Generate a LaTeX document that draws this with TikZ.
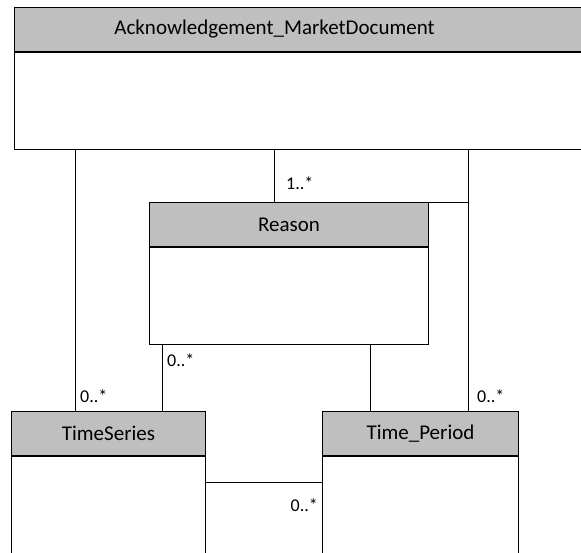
\documentclass[tikz,border=0pt]{standalone}
\usepackage{fontspec}
\setmainfont{Carlito}
\usetikzlibrary{positioning}
\definecolor{head_gray}{RGB}{191,191,191}

\begin{document}
\begin{tikzpicture}[x=1pt,y=-1pt]
    \tikzstyle{hdr}=[draw=black, fill=head_gray, rectangle, minimum height=44pt, inner sep=0pt, text=black, font=\fontsize{21}{25}\selectfont, line width=1pt]
    \tikzstyle{body}=[draw=black, fill=white, rectangle, inner sep=0pt, line width=1pt]
    \tikzstyle{wht}=[draw=none, fill=none, inner sep=0pt, text=black, font=\fontsize{21}{25}\selectfont]
    \tikzstyle{mult}=[draw=none, inner sep=0pt, text=black, font=\fontsize{18}{22}\selectfont]
    \tikzstyle{link}=[-, line width=0.8pt]

    \useasboundingbox (0,0) rectangle (581,552);
    \clip (0,0) rectangle (581,552);

    \node[hdr, minimum width=586pt, anchor=north west] (ackH) at (14,7) {};
    \node[body, minimum width=586pt, minimum height=97pt, anchor=north] (ack) at (ackH.south) {};
    \node[wht] (ackT) at (274.5,29) {Acknowledgement\_MarketDocument};

    \node[hdr, minimum width=279pt, anchor=north west] (rsH) at (149,202) {Reason};
    \node[body, minimum width=279pt, minimum height=97pt, anchor=north] (rs) at (rsH.south) {};

    \node[hdr, minimum width=194pt, anchor=north west] (tsH) at (11,411) {TimeSeries};
    \node[body, minimum width=194pt, minimum height=110pt, anchor=north] (ts) at (tsH.south) {};

    \node[hdr, minimum width=196pt, anchor=north west] (tpH) at (322,411) {Time\_Period};
    \node[body, minimum width=196pt, minimum height=110pt, anchor=north] (tp) at (tpH.south) {};

    % x / y positions of the connectors
    \coordinate (xL)  at (75,0);
    \coordinate (xM)  at (274,0);
    \coordinate (xR)  at (468,0);
    \coordinate (xRL) at (162,0);
    \coordinate (xRR) at (370,0);
    \coordinate (yB)  at (0,482);

    \draw[link] (ack.south -| xL) -- (tsH.north -| xL);
    \draw[link] (ack.south -| xM) -- (rsH.north -| xM);
    \draw[link] (ack.south -| xR) -- (tpH.north -| xR);
    \draw[link] (rsH.north east) -- (rsH.north -| xR);
    \draw[link] (rs.south -| xRL) -- (tsH.north -| xRL);
    \draw[link] (rs.south -| xRR) -- (tpH.north -| xRR);
    \draw[link] (ts.east |- yB) -- (tp.west |- yB);

    \node[mult, anchor=west] (m1) at (286,183) {1..*};
    \node[mult, anchor=west] (m2) at (167,360) {0..*};
    \node[mult, anchor=west] (m3) at (80,396)  {0..*};
    \node[mult, anchor=west] (m4) at (477,396) {0..*};
    \node[mult, anchor=east] (m5) at (318,505) {0..*};
\end{tikzpicture}
\end{document}
